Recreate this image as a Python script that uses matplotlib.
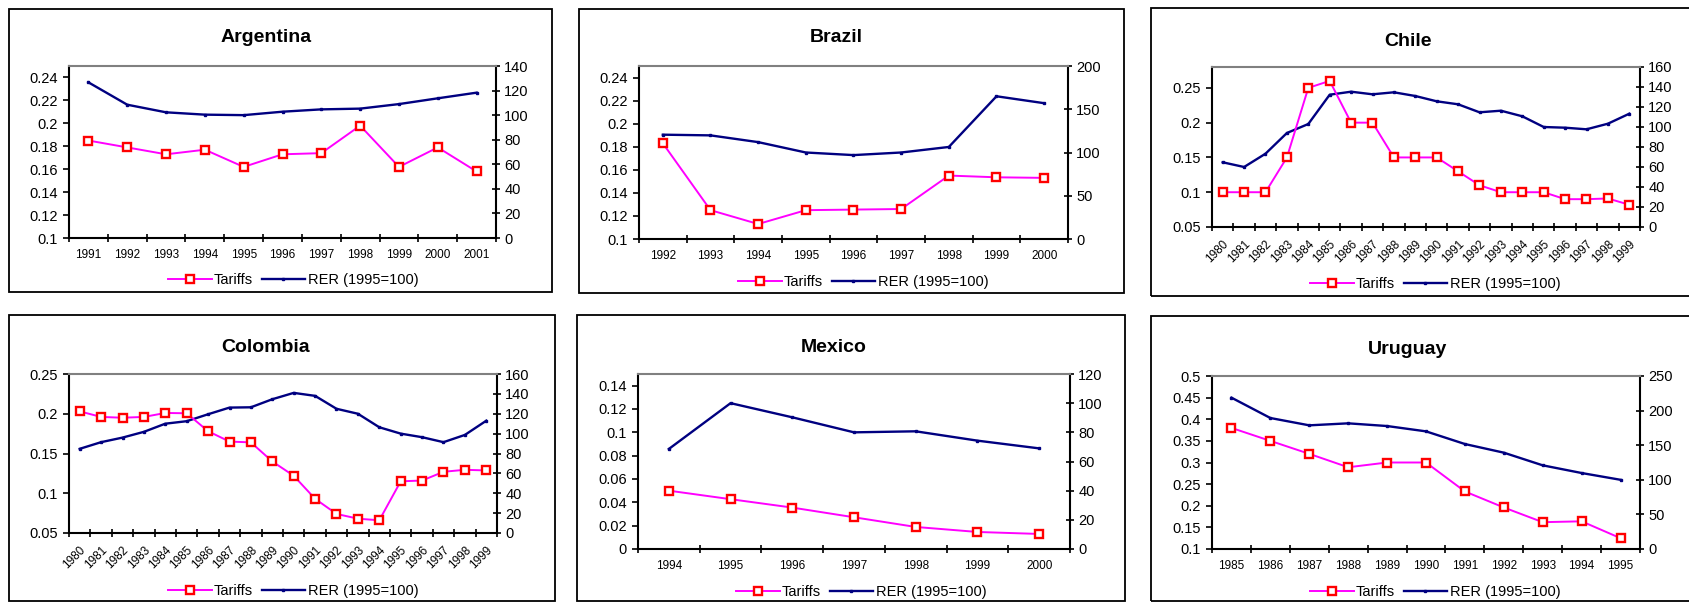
import matplotlib
matplotlib.use("Agg")
import matplotlib.pyplot as plt
from matplotlib.patches import Rectangle
from matplotlib.lines import Line2D
import numpy as np

plt.rcParams['font.family'] = ['Liberation Sans', 'DejaVu Sans']

# ---- data ----
arg_years = list(range(1991, 2002))
arg_tariffs = [0.185, 0.179, 0.173, 0.177, 0.162, 0.173, 0.174, 0.198, 0.162, 0.179, 0.158]
arg_rer = [126.7, 108.5, 102.3, 100.4, 100.0, 102.8, 104.7, 105.3, 109.0, 113.7, 118.3]

bra_years = list(range(1992, 2001))
bra_tariffs = [0.183, 0.125, 0.113, 0.125, 0.1255, 0.126, 0.155, 0.1535, 0.153]
bra_rer = [120.6, 119.8, 112.0, 100.0, 97.0, 100.0, 106.4, 165.0, 157.0]

chi_years = list(range(1980, 2000))
chi_tariffs = [0.10, 0.10, 0.10, 0.15, 0.25, 0.26, 0.20, 0.20, 0.15, 0.15,
               0.15, 0.13, 0.11, 0.10, 0.10, 0.10, 0.09, 0.09, 0.091, 0.082]
chi_rer = [64.7, 60.0, 73.3, 94.0, 103.0, 132.3, 135.3, 132.7, 134.7, 131.0,
           125.7, 122.7, 114.7, 116.3, 110.7, 100.0, 99.3, 97.7, 103.3, 113.3]

col_years = list(range(1980, 2000))
col_tariffs = [0.203, 0.196, 0.195, 0.196, 0.201, 0.2006, 0.178, 0.165, 0.164, 0.140,
               0.122, 0.093, 0.074, 0.068, 0.066, 0.115, 0.116, 0.127, 0.1295, 0.1287]
col_rer = [84.7, 91.4, 96.0, 101.8, 110.0, 112.5, 119.5, 126.2, 126.5, 134.6,
           141.0, 138.0, 125.0, 120.0, 106.4, 100.0, 96.4, 91.4, 98.7, 113.0]

mex_years = list(range(1994, 2001))
mex_tariffs = [0.050, 0.0427, 0.0355, 0.0272, 0.0189, 0.0146, 0.0129]
mex_rer = [68.6, 100.0, 90.3, 80.0, 80.7, 74.3, 69.0]

uru_years = list(range(1985, 1996))
uru_tariffs = [0.38, 0.35, 0.32, 0.289, 0.30, 0.30, 0.233, 0.196, 0.162, 0.164, 0.125]
uru_rer = [218.7, 189.3, 178.7, 181.6, 177.7, 170.0, 151.7, 139.2, 120.9, 109.8, 100.0]

W, H = 1690, 603
fig = plt.figure(figsize=(W / 100, H / 100), dpi=100)
fig.patch.set_facecolor('white')

PINK = '#FF00FF'
RED = '#FF0000'
NAVY = '#000080'


def frac_rect(x0, y0, x1, y1):
    return [x0 / W, 1 - y1 / H, (x1 - x0) / W, (y1 - y0) / H]


def fmt(v):
    return ('%.2f' % v).rstrip('0').rstrip('.') if v != int(v) else str(int(v))


def draw_panel(name, years, tariffs, rer, box, axbox, title_y, leg_y,
               left_lim, left_ticks, right_lim, right_ticks, rotate=False):
    fig.patches.append(Rectangle((box[0] / W, 1 - box[3] / H),
                                 (box[2] - box[0]) / W, (box[3] - box[1]) / H,
                                 transform=fig.transFigure, fill=False,
                                 ec='black', lw=1.3))
    ax = fig.add_axes(frac_rect(*axbox))
    ax2 = ax.twinx()
    x = np.arange(len(years))
    ax2.plot(x, rer, color=NAVY, lw=1.7, marker='s', ms=2)
    ax.plot(x, tariffs, color=PINK, lw=1.4, marker='s', ms=6.2,
            mfc='white', mec=RED, mew=1.7)
    ax.set_zorder(ax2.get_zorder() + 1)
    ax.patch.set_visible(False)

    ax.set_xlim(-0.5, len(years) - 0.5)
    ax.set_xticks(np.arange(len(years) + 1) - 0.5)
    ax.set_xticklabels([])
    ax.set_xticks(x, minor=True)
    if rotate:
        ax.set_xticklabels([str(y) for y in years], minor=True, rotation=45,
                           ha='right', va='top', rotation_mode='anchor', fontsize=8.5)
        ax.tick_params(axis='x', which='minor', length=0, pad=8)
    else:
        ax.set_xticklabels([str(y) for y in years], minor=True, fontsize=8.5)
        ax.tick_params(axis='x', which='minor', length=0, pad=8)
    ax.tick_params(axis='x', which='major', direction='inout', length=5.5, width=1.2)

    ax.set_ylim(*left_lim)
    ax.set_yticks(left_ticks)
    ax.set_yticklabels([fmt(v) for v in left_ticks], fontsize=10.5)
    ax.tick_params(axis='y', direction='out', length=4, width=1.2, pad=4)

    ax2.set_ylim(*right_lim)
    ax2.set_yticks(right_ticks)
    ax2.set_yticklabels([fmt(v) for v in right_ticks], fontsize=10.5)
    ax2.tick_params(axis='y', direction='inout', length=6, width=1.2, pad=3)

    for s in ('left', 'bottom'):
        ax.spines[s].set_color('black')
        ax.spines[s].set_linewidth(1.5)
    ax.spines['top'].set_color('#808080')
    ax.spines['top'].set_linewidth(1.5)
    ax.spines['right'].set_visible(False)
    for s in ('left', 'bottom', 'top'):
        ax2.spines[s].set_visible(False)
    ax2.spines['right'].set_color('black')
    ax2.spines['right'].set_linewidth(1.5)

    fig.text((box[0] + 257) / W, 1 - title_y / H, name, ha='center', va='center',
             fontsize=14, fontweight='bold')

    handles = [Line2D([], [], color=PINK, lw=1.4, marker='s', ms=6.2,
                      mfc='white', mec=RED, mew=1.7),
               Line2D([], [], color=NAVY, lw=1.7, marker='s', ms=2)]
    fig.legend(handles, ['Tariffs', 'RER (1995=100)'], loc='center',
               bbox_to_anchor=((box[0] + 284) / W, 1 - leg_y / H), ncol=2,
               frameon=False, fontsize=10.5, handlelength=3.0,
               handletextpad=0.15, columnspacing=0.6, borderpad=0, markerscale=1)


draw_panel('Argentina', arg_years, arg_tariffs, arg_rer,
           (9, 9, 552, 292), (69, 66, 496, 238), 38, 280,
           (0.1, 0.25), np.arange(0.1, 0.2401, 0.02), (0, 140), np.arange(0, 141, 20))
draw_panel('Brazil', bra_years, bra_tariffs, bra_rer,
           (579, 9, 1124, 293), (639, 66, 1068, 239), 38, 282,
           (0.1, 0.25), np.arange(0.1, 0.2401, 0.02), (0, 200), np.arange(0, 201, 50))
draw_panel('Chile', chi_years, chi_tariffs, chi_rer,
           (1151, 8, 1720, 296), (1212, 67, 1640, 227), 41, 284,
           (0.05, 0.28), np.arange(0.05, 0.2501, 0.05), (0, 160), np.arange(0, 161, 20),
           rotate=True)
draw_panel('Colombia', col_years, col_tariffs, col_rer,
           (9, 315, 555, 601), (69, 374, 497, 533), 347, 591,
           (0.05, 0.25), np.arange(0.05, 0.2501, 0.05), (0, 160), np.arange(0, 161, 20),
           rotate=True)
draw_panel('Mexico', mex_years, mex_tariffs, mex_rer,
           (577, 315, 1125, 601), (638, 374, 1070, 549), 347, 592,
           (0, 0.15), np.arange(0, 0.1401, 0.02), (0, 120), np.arange(0, 121, 20))
draw_panel('Uruguay', uru_years, uru_tariffs, uru_rer,
           (1151, 316, 1720, 601), (1212, 376, 1640, 549), 349, 592,
           (0.1, 0.5), np.arange(0.1, 0.5001, 0.05), (0, 250), np.arange(0, 251, 50))

fig.savefig('out.png', dpi=100)
